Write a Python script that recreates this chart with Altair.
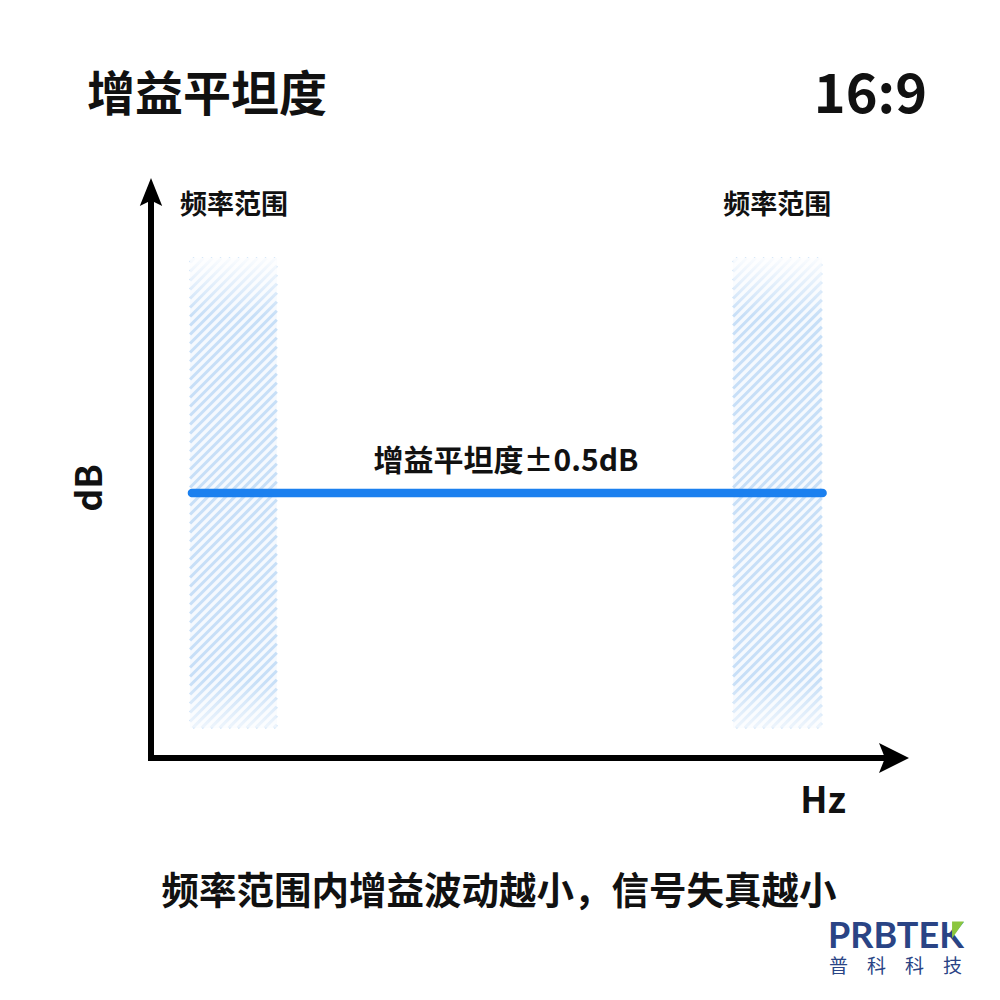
import altair as alt
import pandas as pd
import numpy as np

# ---------------- data ----------------
title_text = "增益平坦度"
ratio_text = "16:9"
x_label = "Hz"
y_label = "dB"
caption = "频率范围内增益波动越小，信号失真越小"
brand = "PRBTEK"
brand_cn = "普　科　科　技"

band_names = ["频率范围", "频率范围"]
band_start = [5.15, 76.8]      # frequency (normalised axis units)
band_end = [16.6, 88.5]
band_low = [5.2, 5.2]          # dB (normalised axis units)
band_high = [86.2, 86.2]

gain_label = "增益平坦度±0.5dB"
gain_level = 45.7
gain_start = 5.4
gain_end = 88.6

axis_max = 100

# ---------------- geometry helpers ----------------
X_RANGE = [143, 901]
Y_RANGE = [750, 170]
xs = alt.Scale(domain=[0, axis_max], range=X_RANGE)
ys = alt.Scale(domain=[0, axis_max], range=Y_RANGE)
px_per_x = (X_RANGE[1] - X_RANGE[0]) / axis_max
px_per_y = (Y_RANGE[0] - Y_RANGE[1]) / axis_max

FONT = "Noto Sans CJK SC"

# band background
bands = pd.DataFrame({"name": band_names, "x": band_start, "x2": band_end,
                      "y": band_low, "y2": band_high})
band_bg = alt.Chart(bands).mark_rect(color="#f5f9fe").encode(
    x=alt.X("x:Q", scale=xs, axis=None), x2="x2:Q",
    y=alt.Y("y:Q", scale=ys, axis=None), y2="y2:Q")

# hatch stripes ("/" direction) clipped to each band, computed in pixel space
segs = []
step = 9.0
for xa, xb, ya, yb in zip(band_start, band_end, band_low, band_high):
    px0 = X_RANGE[0] + xa * px_per_x
    px1 = X_RANGE[0] + xb * px_per_x
    py0 = Y_RANGE[0] - yb * px_per_y   # top (screen)
    py1 = Y_RANGE[0] - ya * px_per_y   # bottom (screen)
    c = px0 + py0 + step / 2
    while c < px1 + py1:
        sx = max(px0, c - py1)
        ex = min(px1, c - py0)
        if ex > sx:
            sy, ey = c - sx, c - ex
            segs.append({
                "x": (sx - X_RANGE[0]) / px_per_x,
                "y": (Y_RANGE[0] - sy) / px_per_y,
                "x2": (ex - X_RANGE[0]) / px_per_x,
                "y2": (Y_RANGE[0] - ey) / px_per_y,
            })
        c += step
hatch = alt.Chart(pd.DataFrame(segs)).mark_rule(
    color="#a9cdf1", strokeWidth=3, opacity=0.6, strokeCap="butt").encode(
    x=alt.X("x:Q", scale=xs), y=alt.Y("y:Q", scale=ys), x2="x2:Q", y2="y2:Q")

# fade at top and bottom of bands
fade_top = alt.Chart(bands).transform_calculate(ymid="datum.y2 - 10").mark_rect(
    fill={"x1": 0, "y1": 0, "x2": 0, "y2": 1, "gradient": "linear",
          "stops": [{"offset": 0, "color": "rgba(255,255,255,0.9)"},
                    {"offset": 1, "color": "rgba(255,255,255,0)"}]}).encode(
    x=alt.X("x:Q", scale=xs), x2="x2:Q",
    y=alt.Y("y2:Q", scale=ys), y2=alt.Y2("ymid:Q"))
fade_bot = alt.Chart(bands).transform_calculate(ymid="datum.y + 8").mark_rect(
    fill={"x1": 0, "y1": 0, "x2": 0, "y2": 1, "gradient": "linear",
          "stops": [{"offset": 0, "color": "rgba(255,255,255,0)"},
                    {"offset": 1, "color": "rgba(255,255,255,0.7)"}]}).encode(
    x=alt.X("x:Q", scale=xs), x2="x2:Q",
    y=alt.Y("ymid:Q", scale=ys), y2=alt.Y2("y:Q"))

# gain line
gain_df = pd.DataFrame({"x": [gain_start], "x2": [gain_end], "y": [gain_level]})
gain = alt.Chart(gain_df).mark_rule(color="#1b80ef", strokeWidth=8.5, strokeCap="round").encode(
    x=alt.X("x:Q", scale=xs), x2="x2:Q", y=alt.Y("y:Q", scale=ys))

# axes
y_head_len = 28 / px_per_y
x_head_len = 30 / px_per_x
axes_df = pd.DataFrame({
    "x": [0, 0], "y": [0, 0],
    "x2": [axis_max - x_head_len / 2, 0],
    "y2": [0, axis_max - y_head_len / 2]})
axes = alt.Chart(axes_df).mark_rule(color="#000000", strokeWidth=6, strokeCap="square").encode(
    x=alt.X("x:Q", scale=xs), y=alt.Y("y:Q", scale=ys), x2="x2:Q", y2="y2:Q")

yhead = alt.Chart(pd.DataFrame({"x": [0], "y": [axis_max - y_head_len / 2]})).mark_point(
    shape="M0,-1L0.8,1L0,0.6L-0.8,1Z", size=784, filled=True, color="#000000", opacity=1).encode(
    x=alt.X("x:Q", scale=xs), y=alt.Y("y:Q", scale=ys))
xhead = alt.Chart(pd.DataFrame({"x": [axis_max - x_head_len / 2], "y": [0]})).mark_point(
    shape="M1,0L-1,-1L-0.6,0L-1,1Z", size=900, filled=True, color="#000000", opacity=1).encode(
    x=alt.X("x:Q", scale=xs), y=alt.Y("y:Q", scale=ys))

# band labels
band_lbl = alt.Chart(bands).mark_text(
    font=FONT, fontSize=27, fontWeight="bold", align="left", baseline="middle",
    color="#111111", dx=-10).encode(
    x=alt.X("x:Q", scale=xs), y=alt.value(198), text="name:N")

gain_lbl = alt.Chart(pd.DataFrame({"t": [gain_label]})).mark_text(
    font=FONT, fontSize=30, fontWeight="bold", align="center", baseline="middle",
    color="#111111").encode(x=alt.value(498), y=alt.value(454), text="t:N")


def txt(t, x, y, size, align="center", angle=0, color="#111111", weight="bold",
        font=FONT, baseline="middle"):
    kw = dict(font=font, fontSize=size, fontWeight=weight, align=align,
              baseline=baseline, color=color)
    if angle:
        kw["angle"] = angle
    return alt.Chart(pd.DataFrame({"t": [t]})).mark_text(**kw).encode(
        x=alt.value(x), y=alt.value(y), text="t:N")


title = txt(title_text, 79, 89, 48, align="left")
ratio = txt(ratio_text, 919, 89, 54, align="right")
ylab = txt(y_label, 83, 480, 36, angle=270)
xlab = txt(x_label, 815, 794, 36)
cap = txt(caption, 491, 885, 37.5)
logo = txt(brand, 820, 948, 36, align="left", color="#2a4485", weight="bold",
           font="Lato", baseline="bottom")
logo_cn = txt(brand_cn, 821, 950, 19, align="left", color="#2a4485", weight="normal",
              baseline="top")
leaf = alt.Chart(pd.DataFrame({"a": [1]})).mark_point(
    shape="M-0.7,-1L0.7,-1L-0.7,1Z", size=289, filled=True, color="#8cc63e", opacity=1).encode(
    x=alt.value(950), y=alt.value(922))

chart = alt.layer(band_bg, hatch, fade_top, fade_bot, gain, axes, yhead, xhead, band_lbl,
                  gain_lbl, title, ratio, ylab, xlab, cap, logo, logo_cn, leaf).properties(
    width=984, height=984, padding=0,
    autosize=alt.AutoSizeParams(type="none"),
    background="#ffffff"
).configure_view(stroke=None)

chart.save("out.html", embed_options={"renderer": "svg", "actions": False})
